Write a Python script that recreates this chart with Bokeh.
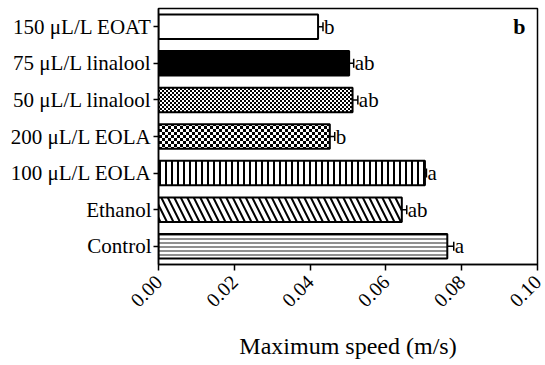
import math, base64, struct, zlib
from bokeh.plotting import figure
from bokeh.models import ColumnDataSource, FactorRange, Whisker, TeeHead, FixedTicker, Range1d, CustomJSTickFormatter
from bokeh.models.textures import ImageURLTexture
from bokeh.core.properties import value
from bokeh.embed import file_html
from bokeh.resources import INLINE

# data (listed top to bottom as displayed)
treatments = ["150 μL/L EOAT", "75 μL/L linalool", "50 μL/L linalool",
              "200 μL/L EOLA", "100 μL/L EOLA", "Ethanol", "Control"]
max_speed = [0.0421, 0.0503, 0.0512, 0.0452, 0.0703, 0.0642, 0.0762]
sem = [0.0013, 0.0012, 0.0014, 0.0013, 0.0004, 0.0013, 0.0017]
letters = ["b", "ab", "ab", "b", "a", "ab", "a"]
x_ticks = [0.00, 0.02, 0.04, 0.06, 0.08, 0.10]
panel_label = "b"

FONT = "Liberation Serif"

factors = list(reversed(treatments))


def checker_png(square):
    """Small black/white checkerboard tile as a PNG data URL."""
    n = 2 * square
    rows = []
    for r in range(n):
        row = bytearray(b"\x00")
        for c in range(n):
            black = ((r // square) + (c // square)) % 2 == 0
            row += b"\x00\x00\x00" if black else b"\xff\xff\xff"
        rows.append(bytes(row))
    raw = b"".join(rows)

    def chunk(t, d):
        return struct.pack(">I", len(d)) + t + d + struct.pack(">I", zlib.crc32(t + d) & 0xffffffff)

    png = (b"\x89PNG\r\n\x1a\n"
           + chunk(b"IHDR", struct.pack(">IIBBBBB", n, n, 8, 2, 0, 0, 0))
           + chunk(b"IDAT", zlib.compress(raw))
           + chunk(b"IEND", b""))
    return "data:image/png;base64," + base64.b64encode(png).decode()


textures = {
    "checker_small": ImageURLTexture(url=checker_png(2)),
    "checker_big": ImageURLTexture(url=checker_png(3)),
}

fill_colors = ["white", "black", "white", "white", "white", "white", "white"]
hatch_patterns = ["blank", "blank", "checker_small", "checker_big", "vertical_line",
                  "left_diagonal_line", "horizontal_line"]
hatch_scales = [6, 6, 4, 6, 6, 13, 4]
hatch_weights = [1, 1, 1, 1, 2, 2, 1.2]
hatch_colors = ["black", "black", "black", "black", "black", "black", "#444444"]

src = ColumnDataSource(dict(
    y=treatments, x=max_speed,
    hi=[m + e for m, e in zip(max_speed, sem)],
    letter=letters,
    fill=fill_colors, hp=hatch_patterns, hs=hatch_scales, hw=hatch_weights, hc=hatch_colors,
))

p = figure(width=545, height=365, y_range=FactorRange(*factors, range_padding=0),
           x_range=Range1d(0, 0.10), output_backend="svg", toolbar_location=None,
           min_border_left=158, min_border_right=8, min_border_top=8, min_border_bottom=101)

p.hbar(y="y", right="x", left=0, height=0.67, source=src, fill_color="fill",
       line_color="black", line_width=2,
       hatch_pattern="hp", hatch_scale="hs", hatch_weight="hw", hatch_color="hc",
       hatch_extra=textures)

w = Whisker(source=src, base="y", lower="x", upper="hi", dimension="width",
            line_width=1.5, line_color="black",
            upper_head=TeeHead(size=9, line_width=1.5, line_color="black"), lower_head=None)
p.add_layout(w)

p.text(x="hi", y="y", text="letter", source=src, x_offset=1,
       text_font=value(FONT), text_font_size="21px", text_baseline="middle",
       text_align="left", text_color="black")

p.text(x=[0.0952], y=[treatments[0]], text=[panel_label], text_font=value(FONT),
       text_font_size="22px", text_font_style="bold",
       text_align="center", text_baseline="middle", text_color="black")

p.grid.visible = False
p.outline_line_color = "black"
p.outline_line_width = 1.5

p.xaxis.ticker = FixedTicker(ticks=x_ticks)
p.xaxis.formatter = CustomJSTickFormatter(code="return tick.toFixed(2);")
p.xaxis.major_label_orientation = math.pi / 4
p.xaxis.axis_label = "Maximum speed (m/s)"
p.xaxis.axis_label_text_font = FONT
p.xaxis.axis_label_text_font_size = "24px"
p.xaxis.axis_label_text_font_style = "normal"
p.xaxis.axis_label_text_color = "black"
p.xaxis.axis_label_standoff = 17
p.xaxis.minor_tick_line_color = None

for ax in (p.xaxis, p.yaxis):
    ax.major_label_text_font = FONT
    ax.major_label_text_font_size = "21px"
    ax.major_label_text_color = "black"
    ax.axis_line_color = "black"
    ax.axis_line_width = 1.5
    ax.major_tick_line_color = "black"
    ax.major_tick_line_width = 1.5
    ax.major_tick_in = 0

p.xaxis.major_label_text_font_size = "20px"
p.xaxis.major_tick_out = 6
p.yaxis.major_tick_out = 5
p.yaxis.major_label_standoff = 2
p.xaxis.major_label_standoff = 8

open("out.html", "w").write(file_html(p, INLINE))
